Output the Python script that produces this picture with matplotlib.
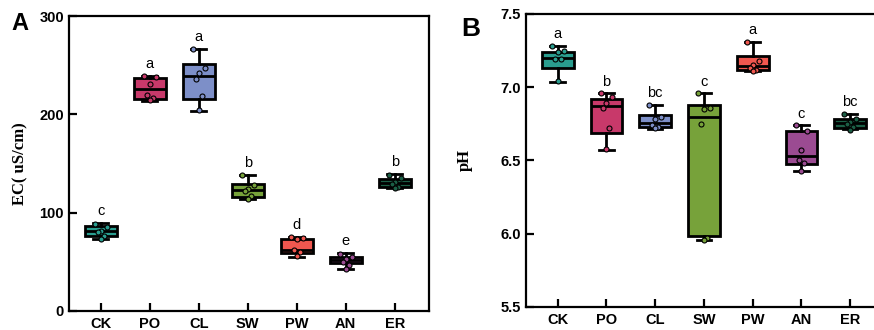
#!/usr/bin/env python3
"""Two-panel box plot: soil EC (A) and pH (B) by treatment."""
import matplotlib
matplotlib.use("Agg")
import matplotlib.pyplot as plt

GROUPS = ["CK", "PO", "CL", "SW", "PW", "AN", "ER"]
COLORS = ["#2a9d8f", "#c8396a", "#7d8fc8", "#77a23a", "#f0574f", "#9b4b92", "#1b5e45"]

# EC: box stats (lo, q1, med, q3, hi)
EC_LO = [73.0, 214.0, 203.4, 114.0, 55.0, 43.0, 124.8]
EC_Q1 = [76.3, 216.0, 215.6, 116.3, 58.5, 48.5, 126.4]
EC_MED = [81.0, 226.0, 238.7, 123.0, 62.0, 52.0, 130.5]
EC_Q3 = [86.8, 236.6, 251.2, 128.8, 73.5, 54.6, 134.2]
EC_HI = [89.5, 239.3, 266.4, 138.3, 75.5, 58.7, 139.3]
EC_POINTS = [
    [88, 85, 81, 80, 76, 73],
    [239, 238, 231, 220, 217, 215],
    [266, 247, 242, 236, 219, 204],
    [138, 128, 124, 122, 117, 114],
    [75, 74, 73, 62, 60, 56],
    [58, 55, 53, 50, 47, 43],
    [138, 135, 131, 129, 126, 125],
]
EC_LETTERS = ["c", "a", "a", "b", "d", "e", "b"]

# pH
PH_LO = [7.035, 6.573, 6.716, 5.955, 7.108, 6.425, 6.712]
PH_Q1 = [7.131, 6.689, 6.730, 5.983, 7.119, 6.473, 6.723]
PH_MED = [7.201, 6.869, 6.757, 6.798, 7.147, 6.534, 6.755]
PH_Q3 = [7.240, 6.921, 6.810, 6.876, 7.211, 6.700, 6.782]
PH_HI = [7.281, 6.958, 6.880, 6.958, 7.307, 6.739, 6.819]
PH_POINTS = [
    [7.28, 7.25, 7.24, 7.19, 7.19, 7.04],
    [6.96, 6.93, 6.89, 6.86, 6.72, 6.58],
    [6.88, 6.80, 6.78, 6.74, 6.73, 6.72],
    [6.96, 6.86, 6.85, 6.75, 5.97, 5.96],
    [7.31, 7.18, 7.15, 7.13, 7.12, 7.11],
    [6.74, 6.70, 6.57, 6.50, 6.48, 6.43],
    [6.82, 6.78, 6.76, 6.75, 6.73, 6.71],
]
PH_LETTERS = ["a", "b", "bc", "c", "a", "c", "bc"]

JITTER = [-0.12, 0.12, 0.0, -0.06, 0.06, 0.0]

plt.rcParams.update({
    "font.family": "Liberation Sans",
    "axes.linewidth": 1.6,
})


def draw_panel(ax, lo, q1, med, q3, hi, points, letters):
    stats = []
    for i, g in enumerate(GROUPS):
        stats.append(dict(label=g, whislo=lo[i], q1=q1[i], med=med[i],
                          q3=q3[i], whishi=hi[i], fliers=[]))
    pos = list(range(len(GROUPS)))
    bp = ax.bxp(stats, positions=pos, widths=0.65, patch_artist=True,
                showfliers=False,
                boxprops=dict(linewidth=2.0, edgecolor="black"),
                medianprops=dict(color="black", linewidth=2.0),
                whiskerprops=dict(color="black", linewidth=2.0),
                capprops=dict(color="black", linewidth=2.0),
                capwidths=0.3)
    for patch, c in zip(bp["boxes"], COLORS):
        patch.set_facecolor(c)
    for i, vals in enumerate(points):
        xs = [i + JITTER[k % len(JITTER)] for k in range(len(vals))]
        ax.plot(xs, vals, "o", ms=3.6, mfc=COLORS[i], mec="black",
                mew=0.8, ls="none", zorder=5)
    for i, t in enumerate(letters):
        ax.annotate(t, (i, hi[i]), xytext=(0, 3.5), textcoords="offset points",
                    ha="center", va="bottom", fontsize=10.5)
    ax.set_xlim(-0.65, 6.7)
    ax.set_xticks(pos)
    ax.set_xticklabels(GROUPS, fontweight="bold", fontsize=10.5)
    for lab in ax.get_yticklabels():
        lab.set_fontweight("bold")
        lab.set_fontsize(10.5)
    ax.tick_params(axis="both", direction="in", length=6, width=1.6)
    ax.tick_params(axis="y", pad=3.5)
    ax.tick_params(axis="x", pad=4)


fig = plt.figure(figsize=(8.74, 3.3), dpi=100)

ax1 = fig.add_axes([0.0789, 0.0576, 0.4119, 0.8939])
draw_panel(ax1, EC_LO, EC_Q1, EC_MED, EC_Q3, EC_HI, EC_POINTS, EC_LETTERS)
ax1.set_ylim(0, 300)
ax1.set_yticks([0, 100, 200, 300])
ax1.set_yticklabels(["0", "100", "200", "300"], fontweight="bold", fontsize=10.5)
ax1.set_ylabel("EC( uS/cm)", family="Liberation Serif", fontweight="bold", fontsize=12)
ax1.yaxis.set_label_coords(-0.114, 0.5)

ax2 = fig.add_axes([0.6018, 0.0697, 0.4100, 0.8879])
draw_panel(ax2, PH_LO, PH_Q1, PH_MED, PH_Q3, PH_HI, PH_POINTS, PH_LETTERS)
ax2.set_ylim(5.5, 7.5)
ax2.set_yticks([5.5, 6.0, 6.5, 7.0, 7.5])
ax2.set_yticklabels(["5.5", "6.0", "6.5", "7.0", "7.5"], fontweight="bold", fontsize=10.5)
ax2.set_ylabel("pH", family="Liberation Serif", fontweight="bold", fontsize=12)
ax2.yaxis.set_label_coords(-0.148, 0.5)

fig.text(0.023, 0.93, "A", ha="center", va="center", fontsize=17, fontweight="bold")
fig.text(0.539, 0.912, "B", ha="center", va="center", fontsize=19, fontweight="bold")

fig.savefig("out.png", dpi=100)
